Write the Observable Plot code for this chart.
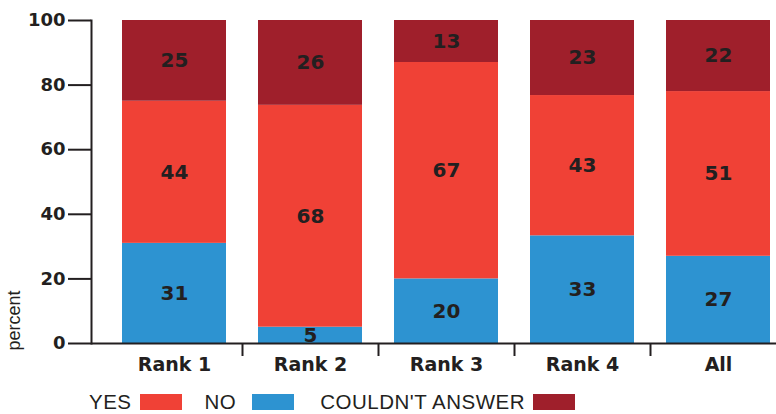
<!DOCTYPE html>
<html>
<head>
<meta charset="utf-8">
<script src="https://cdn.jsdelivr.net/npm/d3@7"></script>
<script src="https://cdn.jsdelivr.net/npm/@observablehq/plot@0.6"></script>
<style>
  body { margin: 0; background: #fff; width: 776px; height: 414px; overflow: hidden; position: relative; }
  #legend { position: absolute; left: 89px; top: 392px; height: 20px; line-height: 20px; display: flex; align-items: center;
    font-family: "Liberation Sans", Arial, sans-serif; font-size: 20.5px; letter-spacing: 0.5px; color: #231f20; white-space: nowrap; }
  #legend span.sw { display: inline-block; width: 42px; height: 16px; }
</style>
</head>
<body>
<div id="chart"></div>
<div id="legend"></div>
<script>
const categories = ["Rank 1", "Rank 2", "Rank 3", "Rank 4", "All"];
const series = ["NO", "YES", "COULDN'T ANSWER"];
const colors = ["#2d93d1", "#f04136", "#9f1f2b"];
const noValues = [31, 5, 20, 33, 27];
const yesValues = [44, 68, 67, 43, 51];
const cantValues = [25, 26, 13, 23, 22];
const yTicks = [0, 20, 40, 60, 80, 100];
const legendOrder = ["YES", "NO", "COULDN'T ANSWER"];

const valuesBySeries = [noValues, yesValues, cantValues];
const data = [];
categories.forEach((c, i) => {
  series.forEach((s, j) => data.push({category: c, series: s, value: valuesBySeries[j][i]}));
});

const ink = "#231f20";
const stackOpts = {x: "category", y: "value", z: "series", offset: "normalize", order: null};

const plot = Plot.plot({
  width: 776,
  height: 392,
  marginTop: 20,
  marginBottom: 49,
  marginLeft: 91,
  marginRight: 0,
  style: {fontFamily: "'DejaVu Sans', sans-serif", color: ink, overflow: "visible"},
  x: {domain: categories, range: [106, 786], paddingInner: 0.235, paddingOuter: 0.1175, label: null},
  y: {domain: [0, 100], percent: true, label: null},
  color: {domain: series, range: colors},
  marks: [
    Plot.barY(data, Plot.stackY({...stackOpts, fill: "series"})),
    Plot.text(data, Plot.stackY({...stackOpts, text: "value", fill: ink, fontSize: 20, fontWeight: "bold"})),
    Plot.ruleY([0], {stroke: ink, strokeWidth: 2}),
    Plot.frame({anchor: "left", stroke: ink, strokeWidth: 2}),
    Plot.ruleX(categories.slice(0, 4), {dx: 68, y1: 0, y2: 0, insetBottom: -13, stroke: ink, strokeWidth: 2}),
    Plot.axisY({ticks: yTicks, tickSize: 23, tickPadding: 3, fontSize: 18, fontWeight: "bold", strokeWidth: 2, label: null}),
    Plot.axisX({tickSize: 0, tickPadding: 14, fontSize: 19, fontWeight: "bold", label: null}),
    Plot.text(["percent"], {frameAnchor: "bottom-left", rotate: -90, textAnchor: "start", dx: -72, dy: 7,
      fontSize: 18, fontFamily: "'Liberation Sans', Arial, sans-serif", fill: ink})
  ]
});
document.getElementById("chart").appendChild(plot);

const legend = document.getElementById("legend");
const gaps = [{text: 8, after: 23}, {text: 16, after: 26}, {text: 8, after: 0}];
legendOrder.forEach((s, k) => {
  const t = document.createElement("span");
  t.textContent = s;
  t.style.marginRight = gaps[k].text + "px";
  legend.appendChild(t);
  const sw = document.createElement("span");
  sw.className = "sw";
  sw.style.background = colors[series.indexOf(s)];
  sw.style.marginRight = gaps[k].after + "px";
  legend.appendChild(sw);
});
</script>
</body>
</html>
